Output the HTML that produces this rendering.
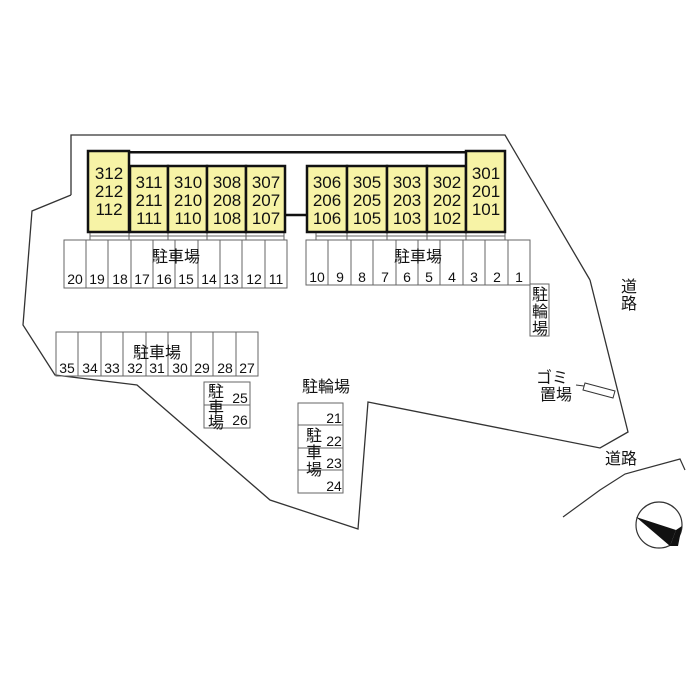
<!DOCTYPE html>
<html><head><meta charset="utf-8"><style>
html,body{margin:0;padding:0;background:#fff;}
svg{display:block;}
text{font-family:"Liberation Sans","Noto Sans CJK JP",sans-serif;fill:#111;}
</style></head><body>
<svg width="700" height="700" viewBox="0 0 700 700" xmlns="http://www.w3.org/2000/svg">
<!-- boundary -->
<polyline fill="none" stroke="#333" stroke-width="1.3" points="71,195 71,135 505,135 590,280"/>
<polyline fill="none" stroke="#333" stroke-width="1.3" points="71,195 32,211 23,325 55,375 137,385 270,500 358,529 368,402 600,448 628,432 590,280"/>
<!-- road -->
<polyline fill="none" stroke="#333" stroke-width="1.2" points="563,517 600,490 625,474 680,459 685,470"/>
<!-- compass -->
<circle cx="659" cy="525" r="23" fill="#fff" stroke="#333" stroke-width="1.2"/>
<polygon points="636,517 676,530 670,546" fill="#111"/>
<polygon points="676,530 682,526 678,546 670,546" fill="#111"/>
<!-- garbage -->
<polygon points="585,383 615,391 613,398 583,390" fill="#fff" stroke="#333"/>
<line x1="576" y1="385" x2="584" y2="386" stroke="#333"/>
<!-- connector line -->
<rect x="129" y="151" width="337" height="2.5" fill="#111"/>
<line x1="285" y1="215" x2="307" y2="215" stroke="#111" stroke-width="2.5"/>
<!-- ticks between building and parking -->
<g stroke="#666" stroke-width="1">
<line x1="90" y1="232" x2="90" y2="240"/><line x1="129" y1="232" x2="129" y2="240"/><line x1="168" y1="232" x2="168" y2="240"/><line x1="207" y1="232" x2="207" y2="240"/><line x1="246" y1="232" x2="246" y2="240"/><line x1="284" y1="232" x2="284" y2="240"/>
<line x1="316" y1="232" x2="316" y2="240"/><line x1="347" y1="232" x2="347" y2="240"/><line x1="387" y1="232" x2="387" y2="240"/><line x1="427" y1="232" x2="427" y2="240"/><line x1="466" y1="232" x2="466" y2="240"/><line x1="505" y1="232" x2="505" y2="240"/>
<line x1="90" y1="236" x2="284" y2="236"/><line x1="316" y1="236" x2="505" y2="236"/>
</g>
<!-- buildings -->
<g fill="#f7f3a6" stroke="#111" stroke-width="2.5">
<rect x="88" y="151" width="41" height="81"/>
<rect x="130" y="166" width="38" height="66"/>
<rect x="168" y="166" width="39" height="66"/>
<rect x="207" y="166" width="39" height="66"/>
<rect x="246" y="166" width="39" height="66"/>
<rect x="307" y="166" width="40" height="66"/>
<rect x="347" y="166" width="40" height="66"/>
<rect x="387" y="166" width="40" height="66"/>
<rect x="427" y="166" width="39" height="66"/>
<rect x="466" y="151" width="39" height="81"/>
</g>
<g font-size="17" text-anchor="middle">
<text x="109" y="179">312</text><text x="109" y="197">212</text><text x="109" y="215">112</text>
<text x="149" y="188">311</text><text x="149" y="206">211</text><text x="149" y="224">111</text>
<text x="188" y="188">310</text><text x="188" y="206">210</text><text x="188" y="224">110</text>
<text x="227" y="188">308</text><text x="227" y="206">208</text><text x="227" y="224">108</text>
<text x="266" y="188">307</text><text x="266" y="206">207</text><text x="266" y="224">107</text>
<text x="327" y="188">306</text><text x="327" y="206">206</text><text x="327" y="224">106</text>
<text x="367" y="188">305</text><text x="367" y="206">205</text><text x="367" y="224">105</text>
<text x="407" y="188">303</text><text x="407" y="206">203</text><text x="407" y="224">103</text>
<text x="447" y="188">302</text><text x="447" y="206">202</text><text x="447" y="224">102</text>
<text x="486" y="179">301</text><text x="486" y="197">201</text><text x="486" y="215">101</text>
</g>
<!-- parking -->
<g fill="none" stroke="#666" stroke-width="1">
<rect x="64" y="240" width="223" height="48"/>
<rect x="306" y="240" width="224" height="45"/>
<rect x="56" y="332" width="202" height="44"/>
<rect x="204" y="382" width="46" height="46"/>
<line x1="204" y1="405" x2="250" y2="405"/>
<rect x="298" y="403" width="45" height="90"/>
<line x1="298" y1="425" x2="343" y2="425"/><line x1="298" y1="448" x2="343" y2="448"/><line x1="298" y1="470" x2="343" y2="470"/>
<rect x="530" y="284" width="19" height="52"/>
</g>
<g stroke="#666" stroke-width="1">
<line x1="86" y1="240" x2="86" y2="288"/><line x1="108" y1="240" x2="108" y2="288"/><line x1="131" y1="240" x2="131" y2="288"/><line x1="153" y1="240" x2="153" y2="288"/><line x1="175" y1="240" x2="175" y2="288"/><line x1="198" y1="240" x2="198" y2="288"/><line x1="220" y1="240" x2="220" y2="288"/><line x1="242" y1="240" x2="242" y2="288"/><line x1="265" y1="240" x2="265" y2="288"/>
<line x1="328" y1="240" x2="328" y2="285"/><line x1="351" y1="240" x2="351" y2="285"/><line x1="373" y1="240" x2="373" y2="285"/><line x1="396" y1="240" x2="396" y2="285"/><line x1="418" y1="240" x2="418" y2="285"/><line x1="440" y1="240" x2="440" y2="285"/><line x1="463" y1="240" x2="463" y2="285"/><line x1="485" y1="240" x2="485" y2="285"/><line x1="508" y1="240" x2="508" y2="285"/>
<line x1="78" y1="332" x2="78" y2="376"/><line x1="101" y1="332" x2="101" y2="376"/><line x1="123" y1="332" x2="123" y2="376"/><line x1="146" y1="332" x2="146" y2="376"/><line x1="168" y1="332" x2="168" y2="376"/><line x1="191" y1="332" x2="191" y2="376"/><line x1="213" y1="332" x2="213" y2="376"/><line x1="236" y1="332" x2="236" y2="376"/>
</g>
<g font-size="14" text-anchor="middle">
<text x="75" y="284">20</text><text x="97" y="284">19</text><text x="120" y="284">18</text><text x="142" y="284">17</text><text x="164" y="284">16</text><text x="186" y="284">15</text><text x="209" y="284">14</text><text x="231" y="284">13</text><text x="254" y="284">12</text><text x="276" y="284">11</text>
<text x="317" y="282">10</text><text x="340" y="282">9</text><text x="362" y="282">8</text><text x="385" y="282">7</text><text x="407" y="282">6</text><text x="429" y="282">5</text><text x="452" y="282">4</text><text x="474" y="282">3</text><text x="497" y="282">2</text><text x="519" y="282">1</text>
<text x="67" y="373">35</text><text x="90" y="373">34</text><text x="112" y="373">33</text><text x="135" y="373">32</text><text x="157" y="373">31</text><text x="180" y="373">30</text><text x="202" y="373">29</text><text x="225" y="373">28</text><text x="247" y="373">27</text>
<text x="240" y="403">25</text><text x="240" y="425">26</text>
<text x="334" y="423">21</text><text x="334" y="446">22</text><text x="334" y="468">23</text><text x="334" y="491">24</text>
</g>
<g font-size="16" text-anchor="middle">
<text x="176" y="262">駐車場</text>
<text x="418" y="262">駐車場</text>
<text x="157" y="358">駐車場</text>
<text x="326" y="392">駐輪場</text>
<text x="216" y="397">駐</text><text x="216" y="413">車</text><text x="216" y="428">場</text>
<text x="314" y="441">駐</text><text x="314" y="458">車</text><text x="314" y="475">場</text>
<text x="540" y="300">駐</text><text x="540" y="317">輪</text><text x="540" y="334">場</text>
<text x="629" y="292">道</text><text x="629" y="309">路</text>
<text x="552" y="383">ゴミ</text><text x="556" y="400">置場</text>
<text x="621" y="464">道路</text>
</g>
</svg>
</body></html>
